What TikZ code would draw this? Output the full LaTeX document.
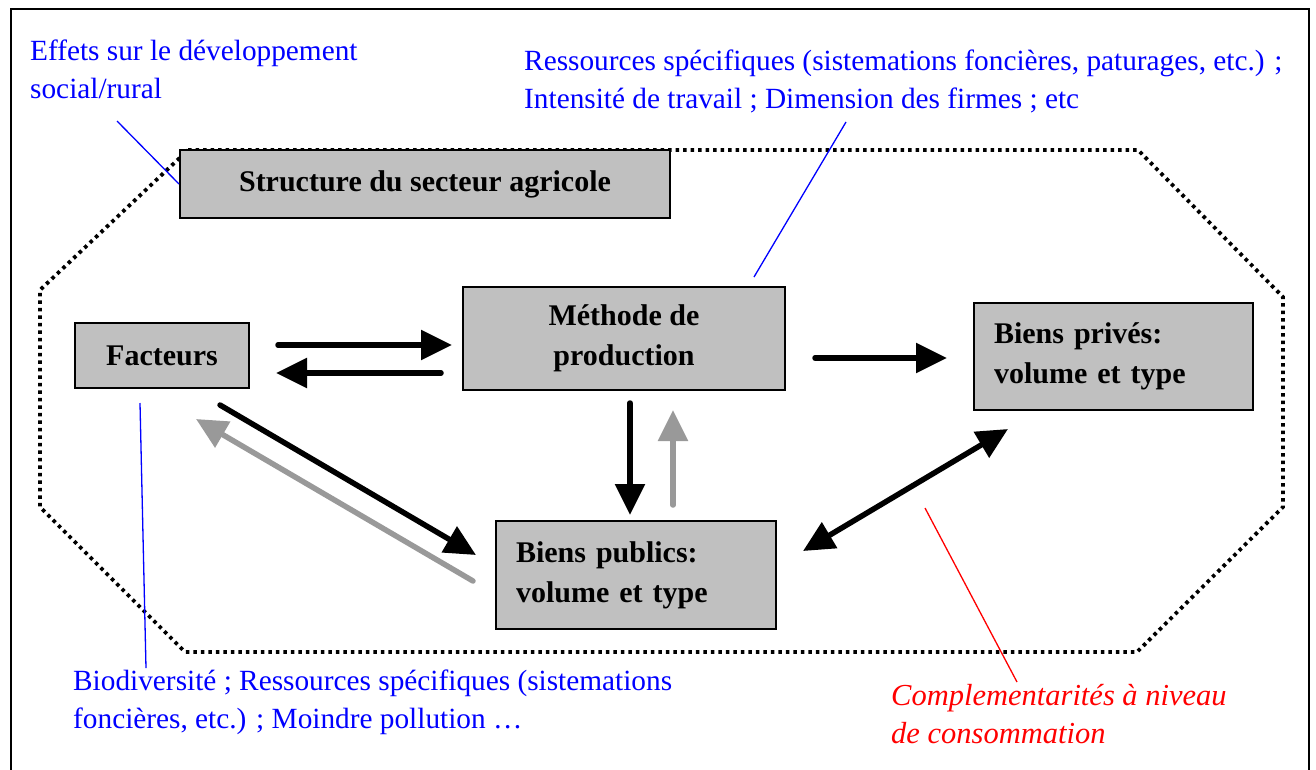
\documentclass[tikz,border=0pt]{standalone}
\usepackage{fontspec}
\setmainfont{Liberation Serif}
\usetikzlibrary{arrows.meta}
\definecolor{boxgray}{HTML}{C0C0C0}
\definecolor{arrgray}{HTML}{999999}
\definecolor{lblue}{HTML}{0000FF}
\definecolor{lred}{HTML}{FF0000}
\begin{document}
\begin{tikzpicture}[x=1pt,y=-1pt,
  box/.style={draw=black,line width=2pt,fill=boxgray,inner sep=0pt,
    font=\fontsize{30}{40}\selectfont\bfseries,align=center},
  arr/.style={line width=5.5pt,line cap=round,-{Triangle[length=31pt,width=29pt]}},
  darr/.style={line width=5.5pt,{Triangle[length=31pt,width=29pt]}-{Triangle[length=31pt,width=29pt]}},
  bluetxt/.style={text=lblue,inner sep=0pt,anchor=north west,align=left,
    font=\fontsize{29.3}{38}\selectfont},
  redtxt/.style={text=lred,inner sep=0pt,anchor=north west,align=left,
    font=\fontsize{30.5}{38}\selectfont\itshape},
  bline/.style={draw=lblue,line width=1.3pt},
  rline/.style={draw=lred,line width=1.3pt},
  octo/.style={draw=black,line width=3.8pt,dash pattern=on 3.5pt off 4pt}
]
\useasboundingbox (0,0) rectangle (1316,769);
% outer frame
\draw[line width=1.5pt] (11,9) rectangle (1309,776);
% dotted octagon
\draw[octo] (188,150) -- (1138,150) -- (1283,297) -- (1283,507) -- (1137,652)
  -- (185,652) -- (40,507) -- (40,290) -- cycle;

% boxes
\node[box,minimum width=490pt,minimum height=68pt] (str) at (425,184) {Structure du secteur agricole};
\node[box,minimum width=174pt,minimum height=65pt] (fac) at (162,355.5) {Facteurs};
\node[box,minimum width=322pt,minimum height=103pt] (met) at (624,338.5) {Méthode de\\production};
\node[box,minimum width=279pt,minimum height=107pt,text width=239pt,align=left] (pri) at (1113.5,356.5) {Biens privés:\\volume et type};
\node[box,minimum width=280pt,minimum height=108pt,text width=240pt,align=left] (pub) at (636,575) {Biens publics:\\volume et type};

% labels
\node[bluetxt] (leff) at (30,40) {Effets sur le développement\\social/rural};
\node[bluetxt] (lres) at (524,50) {Ressources spécifiques (sistemations foncières, paturages, etc.) ;\\Intensité de travail ; Dimension des firmes ; etc};
\node[bluetxt] (lbio) at (73,670) {Biodiversité ; Ressources spécifiques (sistemations\\foncières, etc.) ; Moindre pollution …};
\node[redtxt] (lcom) at (891,684) {Complementarités à niveau\\de consommation};

% arrow end points
\coordinate (a1s) at (278,345); \coordinate (a1e) at (452,345);
\coordinate (a2s) at (441,373); \coordinate (a2e) at (276,373);
\coordinate (a3s) at (815,358); \coordinate (a3e) at (947,358);
\coordinate (a4s) at (630,403); \coordinate (a4e) at (630,515);
\coordinate (a5s) at (673,505); \coordinate (a5e) at (673,410);
\coordinate (a6s) at (220,405); \coordinate (a6e) at (476,555);
\coordinate (a7s) at (473,581); \coordinate (a7e) at (196,419);
\coordinate (a8s) at (803,551); \coordinate (a8e) at (1008,429);

\draw[arr] (a1s) -- (a1e);
\draw[arr] (a2s) -- (a2e);
\draw[arr] (a3s) -- (a3e);
\draw[arr] (a4s) -- (a4e);
\draw[arr,arrgray] (a5s) -- (a5e);
\draw[arr] (a6s) -- (a6e);
\draw[arr,arrgray] (a7s) -- (a7e);
\draw[darr] (a8s) -- (a8e);

% annotation lines
\coordinate (c1) at (117,121);
\draw[bline] (c1) -- (str.west);
\coordinate (c2) at (846,122); \coordinate (c3) at (754,277);
\draw[bline] (c2) -- (c3);
\coordinate (c4) at (140,403); \coordinate (c5) at (146,668);
\draw[bline] (c4) -- (c5);
\coordinate (c6) at (925,508); \coordinate (c7) at (1017,682);
\draw[rline] (c6) -- (c7);
\end{tikzpicture}
\end{document}
